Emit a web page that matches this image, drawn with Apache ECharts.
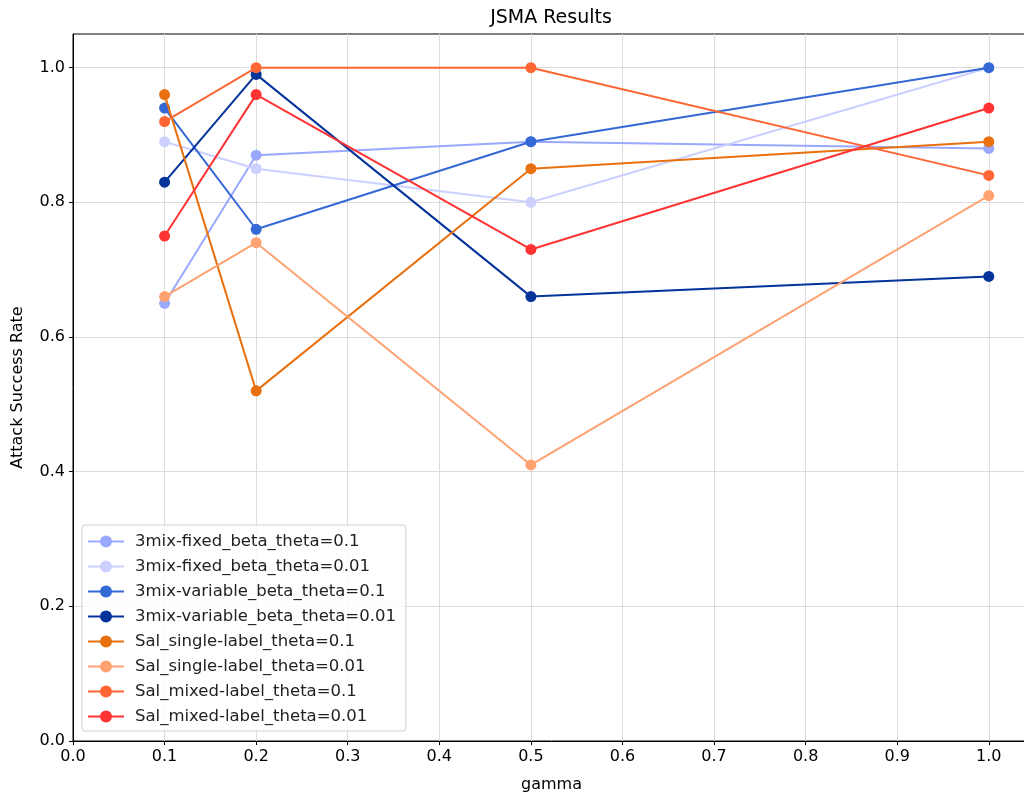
<!DOCTYPE html>
<html>
<head>
<meta charset="utf-8">
<script src="https://cdn.jsdelivr.net/npm/echarts@6/dist/echarts.min.js"></script>
<style>
  html, body { margin: 0; padding: 0; background: #fff; overflow: hidden; }
  #chart { width: 1102px; height: 796px; }
</style>
</head>
<body>
<div id="chart"></div>
<script>
const gammas = [0.1, 0.2, 0.5, 1.0];
const xTicks = [0, 0.1, 0.2, 0.3, 0.4, 0.5, 0.6, 0.7, 0.8, 0.9, 1.0];
const yTicks = [0, 0.2, 0.4, 0.6, 0.8, 1.0];
const seriesNames = [
  '3mix-fixed_beta_theta=0.1',
  '3mix-fixed_beta_theta=0.01',
  '3mix-variable_beta_theta=0.1',
  '3mix-variable_beta_theta=0.01',
  'Sal_single-label_theta=0.1',
  'Sal_single-label_theta=0.01',
  'Sal_mixed-label_theta=0.1',
  'Sal_mixed-label_theta=0.01'
];
const fixed01 = [0.65, 0.87, 0.89, 0.88];
const fixed001 = [0.89, 0.85, 0.80, 1.00];
const variable01 = [0.94, 0.76, 0.89, 1.00];
const variable001 = [0.83, 0.99, 0.66, 0.69];
const single01 = [0.96, 0.52, 0.85, 0.89];
const single001 = [0.66, 0.74, 0.41, 0.81];
const mixed01 = [0.92, 1.00, 1.00, 0.84];
const mixed001 = [0.75, 0.96, 0.73, 0.94];
const allValues = [fixed01, fixed001, variable01, variable001, single01, single001, mixed01, mixed001];
const colors = ['#9aa8ff', '#ccd0ff', '#3468d4', '#04339a', '#e8700e', '#ffa272', '#ff6633', '#ff3333'];

const font = 'DejaVu Sans';
// chart is wider than the window: the plot's right edge falls past the window like in the source image
const chart = echarts.init(document.getElementById('chart'));

chart.setOption({
  animation: false,
  backgroundColor: '#fff',
  title: {
    text: 'JSMA Results',
    left: 'center',
    top: 4,
    textStyle: { fontFamily: font, fontSize: 19, fontWeight: 'normal', color: '#000' }
  },
  legend: {
    orient: 'vertical',
    left: 82,
    top: 525,
    padding: [8, 10, 6, 5],
    itemGap: 8,
    itemWidth: 36,
    itemHeight: 15,
    backgroundColor: 'rgba(255,255,255,0.85)',
    borderColor: '#d0d0d0',
    borderWidth: 1,
    borderRadius: 3,
    textStyle: { fontFamily: font, fontSize: 16.5, color: '#222', padding: [0, 0, 0, 6] },
    data: seriesNames
  },
  grid: {
    left: 73,
    right: 72,
    top: 34,
    bottom: 55,
    show: true,
    borderColor: '#000',
    borderWidth: 1,
    containLabel: false,
    outerBoundsMode: 'none'
  },
  xAxis: {
    type: 'value',
    min: 0,
    max: 1.045,
    name: 'gamma',
    nameLocation: 'middle',
    nameGap: 36,
    nameTextStyle: { fontFamily: font, fontSize: 16, color: '#000' },
    axisLine: { show: true, lineStyle: { color: '#000', width: 1 } },
    axisTick: { show: true, length: 4, inside: false, customValues: xTicks, lineStyle: { color: '#000' } },
    axisLabel: {
      fontFamily: font, fontSize: 16, color: '#000', margin: 8,
      customValues: xTicks,
      formatter: v => v.toFixed(1)
    },
    splitLine: { show: true, lineStyle: { color: '#dcdcdc', width: 1 } }
  },
  yAxis: {
    type: 'value',
    min: 0,
    max: 1.05,
    name: 'Attack Success Rate',
    nameLocation: 'middle',
    nameGap: 47,
    nameTextStyle: { fontFamily: font, fontSize: 16, color: '#000' },
    axisLine: { show: true, lineStyle: { color: '#000', width: 1 } },
    axisTick: { show: true, length: 4, inside: false, customValues: yTicks, lineStyle: { color: '#000' } },
    axisLabel: {
      fontFamily: font, fontSize: 16, color: '#000', margin: 8,
      customValues: yTicks,
      formatter: v => v.toFixed(1)
    },
    splitLine: { show: true, lineStyle: { color: '#dcdcdc', width: 1 } }
  },
  series: seriesNames.map((name, i) => ({
    name: name,
    type: 'line',
    data: gammas.map((g, j) => [g, allValues[i][j]]),
    symbol: 'circle',
    symbolSize: 11,
    lineStyle: { width: 2, color: colors[i] },
    itemStyle: { color: colors[i] },
    z: 2 + i
  }))
});
</script>
</body>
</html>
